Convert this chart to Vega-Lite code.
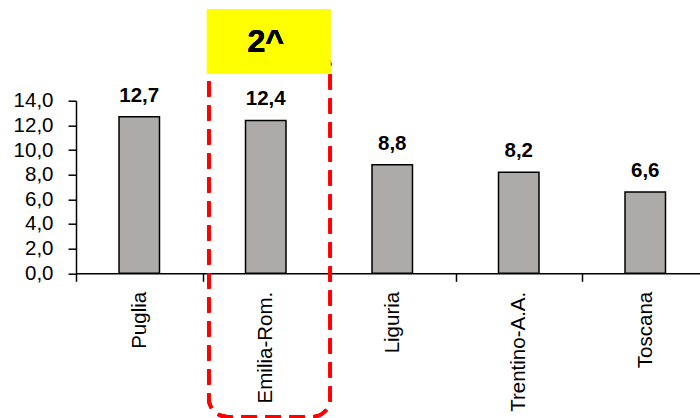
{
  "$schema": "https://vega.github.io/schema/vega-lite/v6.json",
  "width": 624,
  "height": 172.6,
  "autosize": {"type": "none"},
  "padding": {"left": 76, "top": 100.7, "right": 0, "bottom": 144.7},
  "background": "white",
  "config": {
    "locale": {"number": {"decimal": ",", "thousands": ".", "grouping": [3], "currency": ["€", ""]}},
    "view": {"stroke": null},
    "font": "Liberation Sans"
  },
  "data": {"values": [
    {"region": "Puglia", "value": 12.7},
    {"region": "Emilia-Rom.", "value": 12.4},
    {"region": "Liguria", "value": 8.8},
    {"region": "Trentino-A.A.", "value": 8.2},
    {"region": "Toscana", "value": 6.6}
  ]},
  "encoding": {
    "x": {
      "field": "region", "type": "nominal", "sort": null,
      "scale": {"range": [0, 632.5], "paddingInner": 0, "paddingOuter": 0},
      "axis": {
        "title": null, "labelAngle": -90, "labelAlign": "right", "labelBaseline": "middle",
        "labelFont": "Liberation Sans", "labelFontSize": 20.5, "labelColor": "black",
        "labelPadding": 10, "tickSize": 8, "tickBand": "extent", "tickColor": "black", "tickWidth": 1.5,
        "domainColor": "black", "domainWidth": 1.5, "grid": false, "labelOverlap": false
      }
    },
    "y": {
      "field": "value", "type": "quantitative",
      "scale": {"domain": [0, 14], "nice": false, "zero": true},
      "axis": {
        "title": null, "values": [0, 2, 4, 6, 8, 10, 12, 14], "format": ".1f",
        "labelFont": "Liberation Sans", "labelFontSize": 20.5, "labelColor": "black", "labelOverlap": false,
        "labelPadding": 15, "tickSize": 8, "tickColor": "black", "tickWidth": 1.5,
        "domainColor": "black", "domainWidth": 1.5, "grid": false
      }
    }
  },
  "layer": [
    {
      "mark": {"type": "bar", "width": {"band": 0.32}, "fill": "#ADAAAA", "stroke": "black", "strokeWidth": 1.5}
    },
    {
      "mark": {"type": "text", "font": "Liberation Sans", "fontWeight": "bold", "fontSize": 20.5, "baseline": "alphabetic", "dy": -15, "color": "black"},
      "encoding": {
        "text": {"field": "value", "type": "quantitative", "format": ".1f"}
      }
    },
    {
      "mark": {"type": "rect", "fill": null, "stroke": "#FF0000", "strokeWidth": 3.5, "strokeDash": [15, 9], "cornerRadius": 18},
      "encoding": {
        "x": {"datum": "Emilia-Rom.", "bandPosition": 0.05},
        "x2": {"datum": "Emilia-Rom.", "bandPosition": 1.01},
        "y": {"datum": 18.11},
        "y2": {"datum": -11.63}
      }
    },
    {
      "mark": {"type": "rect", "fill": "#FFFF00", "stroke": null},
      "encoding": {
        "x": {"datum": "Emilia-Rom.", "bandPosition": 0.035},
        "x2": {"datum": "Emilia-Rom.", "bandPosition": 1.01},
        "y": {"datum": 21.41},
        "y2": {"datum": 16.17}
      }
    },
    {
      "mark": {"type": "text", "font": "Liberation Sans", "fontWeight": "bold", "fontSize": 32, "baseline": "middle", "align": "center", "color": "black", "text": "2^"},
      "encoding": {
        "x": {"datum": "Emilia-Rom."},
        "y": {"datum": 18.76}
      }
    }
  ]
}
